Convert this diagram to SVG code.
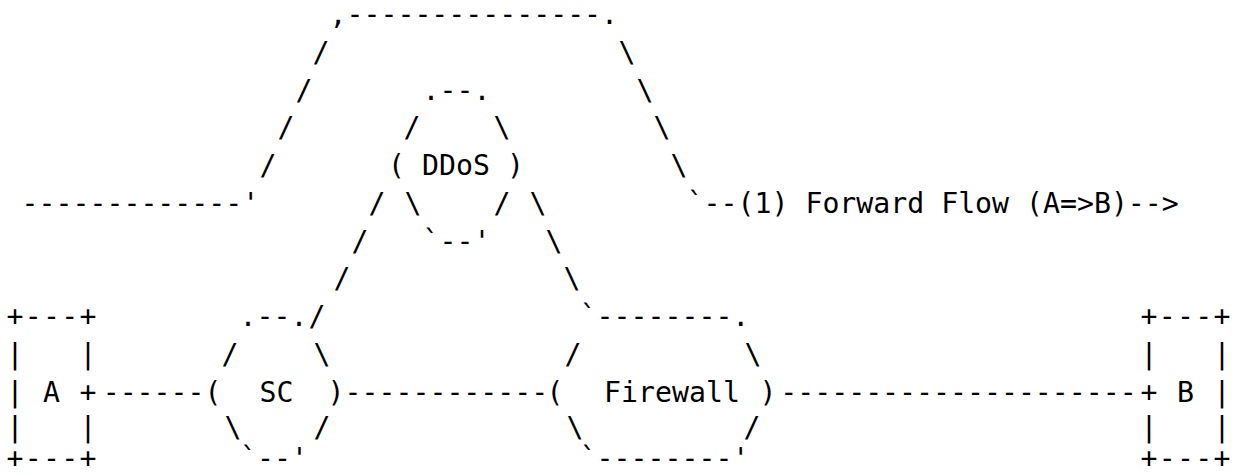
<svg xmlns="http://www.w3.org/2000/svg" width="1239" height="475" viewBox="0 0 1239 475">
<style>
text { font-family: "DejaVu Sans Mono", "Liberation Mono", monospace; font-size: 28.2px; fill: #000; text-anchor: middle; white-space: pre; }
</style>
<rect width="1239" height="475" fill="#fff"/>
<g id="connectors">
  <g id="forward-flow">
    <text x="140.4" y="212.75">-------------'</text>
    <text x="268" y="175">/</text>
    <text x="286" y="137.25">/</text>
    <text x="304" y="99.5">/</text>
    <text x="321" y="61.75">/</text>
    <text x="473.8" y="24">,---------------.</text>
    <text x="627" y="61.75">\</text>
    <text x="645" y="99.5">\</text>
    <text x="662" y="137.25">\</text>
    <text x="679" y="175">\</text>
    <text x="932.7" y="212.75" xml:space="preserve">`--(1) Forward Flow (A=&gt;B)--&gt;</text>
  </g>
  <g id="sc-ddos">
    <text x="317" y="326">/</text>
    <text x="342" y="288.25">/</text>
    <text x="360" y="250.5">/</text>
    <text x="377" y="212.75">/</text>
  </g>
  <g id="ddos-firewall">
    <text x="538" y="212.75">\</text>
    <text x="554" y="250.5">\</text>
    <text x="572" y="288.25">\</text>
  </g>
  <g id="a-sc">
    <text x="153.6" y="401.5">------</text>
  </g>
  <g id="sc-firewall">
    <text x="446.4" y="401.5">------------</text>
  </g>
  <g id="firewall-b">
    <text x="958.5" y="401.5">---------------------</text>
  </g>
</g>
<g id="node-A">
  <text x="15 33.25 51.5 69.75 88" y="326">+---+</text>
  <text x="15 88" y="363.75">||</text>
  <text x="15 51.5 88" y="401.5">|A+</text>
  <text x="15 88" y="437">||</text>
  <text x="15 33.25 51.5 69.75 88" y="468">+---+</text>
</g>
<g id="node-B">
  <text x="1149 1167.25 1185.5 1203.75 1222" y="326">+---+</text>
  <text x="1149 1222" y="363.75">||</text>
  <text x="1149 1185.5 1222" y="401.5">+B|</text>
  <text x="1149 1222" y="437">||</text>
  <text x="1149 1167.25 1185.5 1203.75 1222" y="468">+---+</text>
</g>
<g id="node-SC">
  <text x="273.5" y="326">.--.</text>
  <text x="230" y="363.75">/</text>
  <text x="322" y="363.75">\</text>
  <text x="213" y="401.5">(</text>
  <text x="276.5" y="401.5">SC</text>
  <text x="336" y="401.5">)</text>
  <text x="233" y="437">\</text>
  <text x="322" y="437">/</text>
  <text x="274" y="468">`--'</text>
</g>
<g id="node-DDoS">
  <text x="456.5" y="99.5">.--.</text>
  <text x="412" y="137.25">/</text>
  <text x="502" y="137.25">\</text>
  <text x="456" y="175" xml:space="preserve">( DDoS )</text>
  <text x="413" y="212.75">\</text>
  <text x="502" y="212.75">/</text>
  <text x="456.5" y="250.5">`--'</text>
</g>
<g id="node-Firewall">
  <text x="664.5" y="326">`--------.</text>
  <text x="573" y="363.75">/</text>
  <text x="753" y="363.75">\</text>
  <text x="555" y="401.5">(</text>
  <text x="672" y="401.5">Firewall</text>
  <text x="768" y="401.5">)</text>
  <text x="575" y="437">\</text>
  <text x="752" y="437">/</text>
  <text x="664.5" y="468">`--------'</text>
</g>
</svg>
